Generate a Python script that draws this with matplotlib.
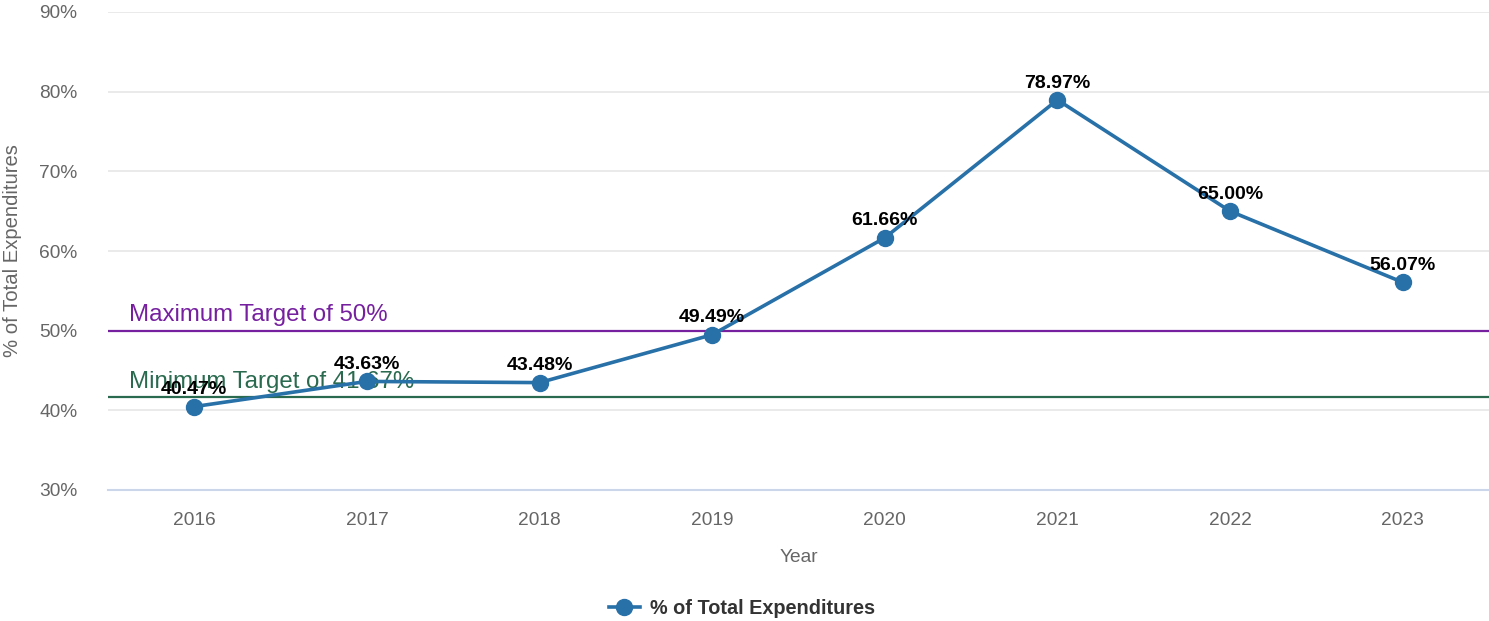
import matplotlib.pyplot as plt
from matplotlib.lines import Line2D

plt.rcParams['font.family'] = ['Liberation Sans', 'DejaVu Sans']

# Share of total expenditures by year
years = ['2016', '2017', '2018', '2019', '2020', '2021', '2022', '2023']
pct = [40.47, 43.63, 43.48, 49.49, 61.66, 78.97, 65.00, 56.07]

# Target reference lines
max_target = 50.0
min_target = 41.67

line_color = '#2870a8'
max_color = '#7620a0'
min_color = '#2a6b50'

fig = plt.figure(figsize=(14.89, 6.21), dpi=100)
ax = fig.add_axes([108 / 1489, 1 - 490 / 621, 1 - 108 / 1489, (490 - 12) / 621])

x = list(range(len(years)))
ax.set_xlim(-0.5, len(years) - 0.5)
ax.set_ylim(30, 90)
ax.set_yticks(range(30, 91, 10))
ax.set_yticklabels([f'{v}%' for v in range(30, 91, 10)])
ax.set_xticks(x)
ax.set_xticklabels(years)

ax.grid(axis='y', color='#e6e6e6', linewidth=1.2)
ax.set_axisbelow(True)
for s in ['top', 'right', 'left']:
    ax.spines[s].set_visible(False)
ax.spines['bottom'].set_color('#ccd6eb')
ax.spines['bottom'].set_linewidth(1.5)
ax.tick_params(axis='both', length=0, labelsize=13.8, colors='#666666')
ax.tick_params(axis='y', pad=22)
ax.tick_params(axis='x', pad=16)

ax.set_ylabel('% of Total Expenditures', fontsize=14.6, color='#666666')
ax.yaxis.set_label_coords(-0.062, 0.5)
ax.set_xlabel('Year', fontsize=13.8, color='#666666', labelpad=14)

# Target lines with their labels
ax.axhline(max_target, color=max_color, linewidth=1.6, zorder=2)
ax.axhline(min_target, color=min_color, linewidth=1.6, zorder=2)
ax.annotate('Maximum Target of 50%', xy=(-0.5, max_target), xytext=(15, 3),
            textcoords='offset points', fontsize=17.3, color=max_color, va='bottom')
ax.annotate('Minimum Target of 41.67%', xy=(-0.5, min_target), xytext=(15, 3),
            textcoords='offset points', fontsize=17.3, color=min_color, va='bottom')

ax.plot(x, pct, color=line_color, linewidth=2.6, marker='o', markersize=11.5,
        zorder=4, clip_on=False)

for xi, v in zip(x, pct):
    ax.annotate(f'{v:.2f}%', xy=(xi, v), xytext=(0, 6), textcoords='offset points',
                ha='center', va='bottom', fontsize=14, fontweight='bold',
                color='black', zorder=5)

handle = Line2D([], [], color=line_color, linewidth=2.6, marker='o', markersize=11.5)
fig.legend([handle], ['% of Total Expenditures'], loc='center',
           bbox_to_anchor=(742 / 1489, 1 - 608 / 621), frameon=False,
           prop={'size': 14.3, 'weight': 'bold'}, labelcolor='#333333',
           handlelength=1.6, handletextpad=0.5)

fig.savefig('out.png', dpi=100)
